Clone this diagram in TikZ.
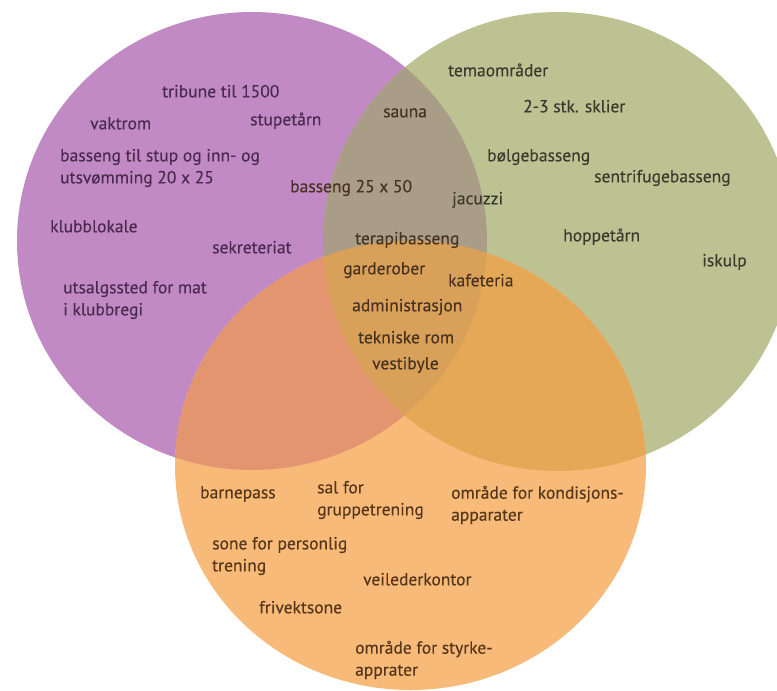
\documentclass[tikz,border=0pt]{standalone}
\usepackage{fontspec}
\setmainfont{PT Sans}
\newfontfamily\lblfont{PT Sans}[FakeBold=0.25]
\definecolor{pcol}{HTML}{C28AC4}
\definecolor{gcol}{HTML}{BDC293}
\definecolor{ocol}{HTML}{F8BA78}
\definecolor{pgcol}{HTML}{A99D88}
\definecolor{pocol}{HTML}{E3956F}
\definecolor{gocol}{HTML}{E5A857}
\definecolor{pgocol}{HTML}{D9A05A}
\definecolor{ptext}{HTML}{4A2A4E}
\definecolor{gtext}{HTML}{3A3A2C}
\definecolor{otext}{HTML}{55361B}
\definecolor{xtext}{HTML}{46321F}
\tikzset{
  lbl/.style={anchor=west, inner sep=0pt, font=\lblfont\fontsize{17.5}{22}\selectfont, align=left},
  one/.style={text height=12.6pt, text depth=4pt},
  lp/.style={lbl, text=ptext},
  lg/.style={lbl, text=gtext},
  lo/.style={lbl, text=otext},
  lx/.style={lbl, text=xtext},
}
\newcommand{\purpleshape}{(252,241) ellipse[x radius=235pt, y radius=229pt]}
\newcommand{\greenshape}{(558,241.5) ellipse[x radius=235pt, y radius=229.5pt]}
\newcommand{\orangeshape}{(410.5,465.5) ellipse[x radius=235.5pt, y radius=224.5pt]}
\begin{document}
\begin{tikzpicture}[x=1pt,y=-1pt]
\useasboundingbox (0,0) rectangle (777,691);
\fill[white] (0,0) rectangle (777,691);
\clip (0,0) rectangle (777,691);
\fill[pcol] \purpleshape;
\fill[gcol] \greenshape;
\fill[ocol] \orangeshape;
\begin{scope}
  \clip \purpleshape;
  \fill[pgcol] \greenshape;
  \fill[pocol] \orangeshape;
  \clip \greenshape;
  \fill[pgocol] \orangeshape;
\end{scope}
\begin{scope}
  \clip \greenshape;
  \clip \orangeshape;
  \begin{scope}[even odd rule]
    \clip (-10,-10) rectangle (800,700) \purpleshape;
    \fill[gocol] \orangeshape;
  \end{scope}
\end{scope}
% purple
\node[lp,one] (tribune) at (162,93) {tribune til 1500};
\node[lp,one] (vaktrom) at (90,125) {vaktrom};
\node[lp,one] (stupetarn) at (250,121) {stupetårn};
\node[lp] (stup) at (60,168) {basseng til stup og inn- og\\utsvømming 20 x 25};
\node[lp,one] (klubb) at (50,228) {klubblokale};
\node[lp,one] (sekr) at (212,249) {sekreteriat};
\node[lp] (utsalg) at (63,300) {utsalgssted for mat\\i klubbregi};
% purple-green
\node[lx,one] (sauna) at (383,113) {sauna};
\node[lx,one] (b2550) at (290,188) {basseng 25 x 50};
% green
\node[lg,one] (tema) at (448,72) {temaområder};
\node[lg,one] (sklier) at (523,108) {2-3 stk. sklier};
\node[lg,one] (bolge) at (487,157) {bølgebasseng};
\node[lg,one] (sentri) at (594,178) {sentrifugebasseng};
\node[lg,one] (jacuzzi) at (452,200) {jacuzzi};
\node[lg,one] (hoppe) at (563,237) {hoppetårn};
\node[lg,one] (iskulp) at (702,262) {iskulp};
% center
\node[lx,one] (terapi) at (355,240) {terapibasseng};
\node[lx,one] (garde) at (343,270) {garderober};
\node[lx,one] (kafe) at (448,282) {kafeteria};
\node[lx,one] (admin) at (352,307) {administrasjon};
\node[lx,one] (tekn) at (358,339) {tekniske rom};
\node[lx,one] (vesti) at (372,365) {vestibyle};
% orange
\node[lo,one] (barne) at (200,494) {barnepass};
\node[lo] (sal) at (317,500) {sal for\\gruppetrening};
\node[lo] (kond) at (451,505) {område for kondisjons-\\apparater};
\node[lo] (sone) at (212,556) {sone for personlig\\trening};
\node[lo,one] (veil) at (363,581) {veilederkontor};
\node[lo,one] (friv) at (259,609) {frivektsone};
\node[lo] (styrke) at (355,660) {område for styrke-\\apprater};
\end{tikzpicture}
\end{document}
